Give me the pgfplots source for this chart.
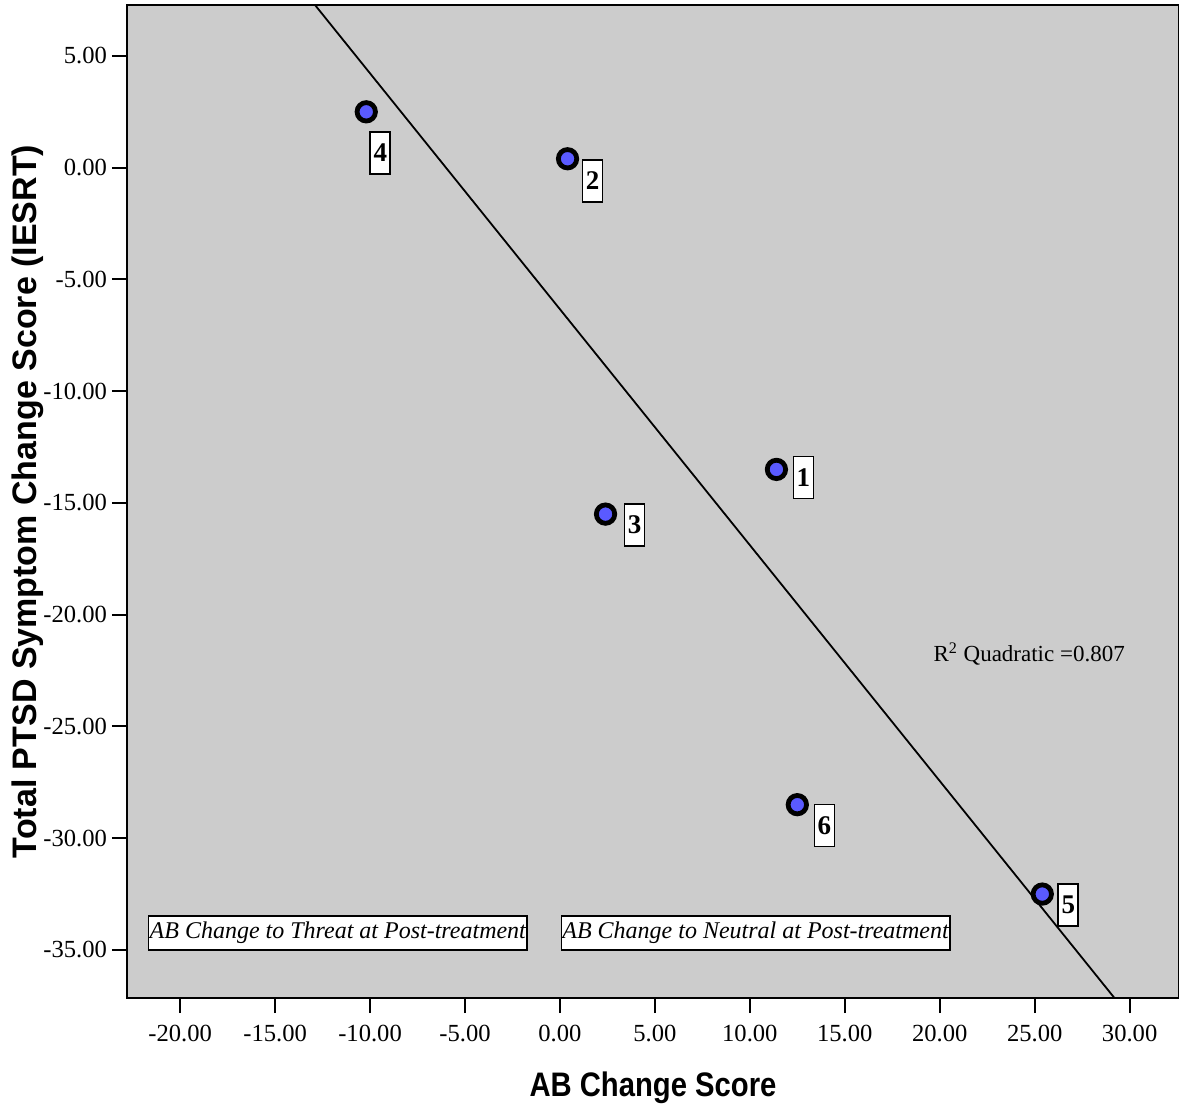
\documentclass[border=0pt]{standalone}
\usepackage{fontspec}
\setmainfont{Liberation Serif}
\setsansfont{Liberation Sans}
\usepackage{pgfplots}
\pgfplotsset{compat=1.18}
\definecolor{bggray}{HTML}{CCCCCC}
\definecolor{ptblue}{HTML}{5A5AFF}
\begin{document}
\begin{tikzpicture}
\begin{axis}[
  scale only axis,
  width=526pt, height=496.5pt,
  xmin=-22.8, xmax=32.6,
  ymin=-37.15, ymax=7.28,
  axis background/.style={fill=bggray},
  axis line style={line width=1pt},
  xtick={-20,-15,...,30},
  xticklabels={-20.00,-15.00,-10.00,-5.00,0.00,5.00,10.00,15.00,20.00,25.00,30.00},
  ytick={-35,-30,...,5},
  yticklabels={-35.00,-30.00,-25.00,-20.00,-15.00,-10.00,-5.00,0.00,5.00},
  xtick pos=bottom, ytick pos=left,
  tick align=outside,
  major tick length=7.5pt,
  tick style={line width=1pt, black},
  ticklabel style={font=\fontsize{12.3}{14}\selectfont},
  xticklabel style={yshift=-2.5pt},
  yticklabel style={xshift=1pt},
  xlabel={AB Change Score},
  ylabel={Total PTSD Symptom Change Score (IESRT)},
  xlabel style={font=\sffamily\bfseries\fontsize{17}{20}\selectfont\addfontfeature{FakeStretch=0.86},
    at={(axis description cs:0.5,-0.0906)}, anchor=center},
  ylabel style={font=\sffamily\bfseries\fontsize{17}{20}\selectfont,
    at={(axis description cs:-0.0941,0.5)}, anchor=center},
]
\coordinate (sw) at (rel axis cs:0,0);
\coordinate (ne) at (rel axis cs:1,1);
\addplot[black, line width=0.9pt, no marks] coordinates {(-25,20.05) (35,-43.27)};
\addplot[only marks, mark=*, mark size=4.6pt,
  mark options={draw=black, fill=ptblue, line width=2.4pt}] coordinates {
  (11.4,-13.5) (0.4,0.4) (2.4,-15.5) (-10.2,2.5) (25.4,-32.5) (12.5,-28.5)
};
\tikzset{plab/.style={draw=black, fill=white, line width=0.8pt, inner sep=1pt,
  minimum width=10pt, minimum height=21pt,
  font=\bfseries\fontsize{13.5}{15}\selectfont}}
\node[plab] at (axis cs:11.4,-13.5) [xshift=13.5pt, yshift=-4pt] {1};
\node[plab] at (axis cs:0.4,0.4) [xshift=12.5pt, yshift=-11pt] {2};
\node[plab] at (axis cs:2.4,-15.5) [xshift=14.5pt, yshift=-5.5pt] {3};
\node[plab] at (axis cs:-10.2,2.5) [xshift=7pt, yshift=-20.5pt] {4};
\node[plab] at (axis cs:25.4,-32.5) [xshift=13pt, yshift=-5.5pt] {5};
\node[plab] at (axis cs:12.5,-28.5) [xshift=13.5pt, yshift=-10.5pt] {6};
\node[draw=black, fill=white, line width=0.8pt, inner xsep=0.5pt, inner ysep=3pt,
  font=\itshape\fontsize{12}{14}\selectfont] at (axis cs:-11.7,-34.24)
  {AB Change to Threat at Post-treatment};
\node[draw=black, fill=white, line width=0.8pt, inner xsep=0.5pt, inner ysep=3pt,
  font=\itshape\fontsize{12}{14}\selectfont] at (axis cs:10.3,-34.24)
  {AB Change to Neutral at Post-treatment};
\node[anchor=west, font=\fontsize{11.5}{13}\selectfont] at (axis cs:19.3,-21.76)
  {R\textsuperscript{2} Quadratic =0.807};
\end{axis}
\pgfresetboundingbox
\path[use as bounding box] ([xshift=-63.5pt,yshift=-56.5pt]sw) rectangle ([yshift=2.5pt]ne);
\end{tikzpicture}
\end{document}
